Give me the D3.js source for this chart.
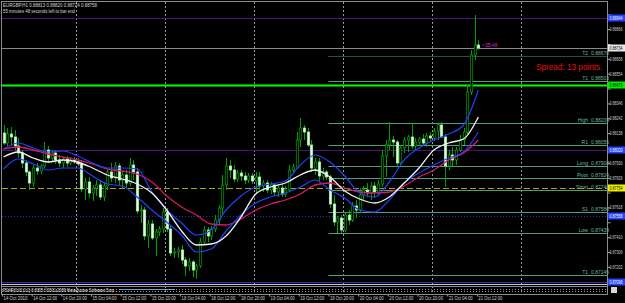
<!DOCTYPE html>
<html>
<head>
<meta charset="utf-8">
<title>EURGBP H1</title>
<script src="https://d3js.org/d3.v7.min.js"></script>
<style>
body { margin: 0; background: #000; overflow: hidden; }
svg { display: block; font-family: "Liberation Sans", Arial, sans-serif; }
</style>
</head>
<body>
<svg id="chart" width="625" height="303"></svg>
<script>
// hourly candles, [open, high, low, close]
var candles = [
  [0.88139,0.88195,0.88055,0.88069],[0.88069,0.88174,0.88048,0.88132],[0.88132,0.88181,0.88048,0.88111],
  [0.88111,0.88160,0.88020,0.88048],[0.88048,0.88104,0.87964,0.87999],[0.87999,0.88020,0.87894,0.87929],
  [0.87929,0.87950,0.87838,0.87866],[0.87866,0.87880,0.87740,0.87789],[0.87789,0.87915,0.87761,0.87894],
  [0.87894,0.87929,0.87845,0.87873],[0.87873,0.87922,0.87852,0.87908],[0.87908,0.88076,0.87894,0.88020],
  [0.88020,0.88048,0.87929,0.87964],[0.87964,0.88020,0.87936,0.87999],[0.87999,0.88020,0.87922,0.87950],
  [0.87950,0.87985,0.87901,0.87929],[0.87929,0.87971,0.87894,0.87957],[0.87957,0.87978,0.87901,0.87929],
  [0.87929,0.87971,0.87915,0.87950],[0.87950,0.87971,0.87922,0.87936],[0.87936,0.87964,0.87908,0.87922],
  [0.87922,0.87950,0.87726,0.87747],[0.87747,0.87824,0.87670,0.87796],[0.87796,0.87831,0.87684,0.87719],
  [0.87719,0.87775,0.87663,0.87754],[0.87754,0.87810,0.87698,0.87775],[0.87775,0.87810,0.87670,0.87691],
  [0.87691,0.87796,0.87663,0.87768],[0.87768,0.87880,0.87740,0.87866],[0.87866,0.87929,0.87796,0.87824],
  [0.87824,0.87936,0.87789,0.87908],[0.87908,0.87929,0.87768,0.87810],[0.87810,0.87866,0.87754,0.87845],
  [0.87845,0.87880,0.87754,0.87789],[0.87789,0.87964,0.87768,0.87915],[0.87915,0.87950,0.87810,0.87866],
  [0.87866,0.87894,0.87572,0.87593],[0.87593,0.87635,0.87509,0.87600],[0.87600,0.87621,0.87390,0.87418],
  [0.87418,0.87530,0.87334,0.87502],[0.87502,0.87530,0.87390,0.87404],[0.87404,0.87467,0.87278,0.87446],
  [0.87446,0.87488,0.87418,0.87467],[0.87467,0.87614,0.87439,0.87586],[0.87586,0.87614,0.87446,0.87467],
  [0.87467,0.87488,0.87278,0.87299],[0.87299,0.87334,0.87264,0.87306],[0.87306,0.87341,0.87264,0.87320],
  [0.87320,0.87355,0.87222,0.87250],[0.87250,0.87271,0.87138,0.87208],[0.87208,0.87264,0.87173,0.87236],
  [0.87236,0.87250,0.87131,0.87180],[0.87180,0.87222,0.87117,0.87208],[0.87208,0.87404,0.87194,0.87376],
  [0.87376,0.87488,0.87362,0.87460],[0.87460,0.87481,0.87376,0.87418],[0.87418,0.87488,0.87390,0.87467],
  [0.87467,0.87565,0.87446,0.87530],[0.87530,0.87635,0.87502,0.87614],[0.87614,0.87845,0.87572,0.87775],
  [0.87775,0.87964,0.87740,0.87908],[0.87908,0.87950,0.87824,0.87880],[0.87880,0.87915,0.87796,0.87817],
  [0.87817,0.87880,0.87796,0.87859],[0.87859,0.87880,0.87803,0.87838],[0.87838,0.87866,0.87782,0.87810],
  [0.87810,0.87859,0.87789,0.87838],[0.87838,0.87859,0.87782,0.87803],[0.87803,0.87866,0.87719,0.87831],
  [0.87831,0.87866,0.87740,0.87768],[0.87768,0.87810,0.87726,0.87789],[0.87789,0.87810,0.87719,0.87740],
  [0.87740,0.87796,0.87712,0.87775],[0.87775,0.87789,0.87698,0.87726],[0.87726,0.87782,0.87691,0.87754],
  [0.87754,0.87789,0.87691,0.87712],[0.87712,0.87768,0.87691,0.87740],[0.87740,0.87915,0.87726,0.87880],
  [0.87880,0.87922,0.87852,0.87901],[0.87901,0.88146,0.87887,0.88090],[0.88090,0.88244,0.88041,0.88174],
  [0.88174,0.88195,0.88090,0.88146],[0.88146,0.88174,0.88041,0.88055],[0.88055,0.88090,0.87866,0.87894],
  [0.87894,0.87964,0.87845,0.87936],[0.87936,0.87964,0.87796,0.87838],[0.87838,0.87894,0.87810,0.87866],
  [0.87866,0.87880,0.87810,0.87831],[0.87831,0.87845,0.87614,0.87642],[0.87642,0.87705,0.87488,0.87516],
  [0.87516,0.87558,0.87439,0.87544],[0.87544,0.87565,0.87439,0.87460],[0.87460,0.87586,0.87446,0.87565],
  [0.87565,0.87600,0.87495,0.87530],[0.87530,0.87656,0.87516,0.87628],[0.87628,0.87670,0.87544,0.87600],
  [0.87600,0.87754,0.87579,0.87705],[0.87705,0.87768,0.87670,0.87740],[0.87740,0.87789,0.87691,0.87719],
  [0.87719,0.87796,0.87670,0.87768],[0.87768,0.87796,0.87684,0.87726],[0.87726,0.87810,0.87698,0.87782],
  [0.87782,0.88020,0.87761,0.87978],[0.87978,0.88090,0.87831,0.88055],[0.88055,0.88216,0.88020,0.88090],
  [0.88090,0.88118,0.87971,0.88076],[0.88076,0.88090,0.87901,0.87929],[0.87929,0.88055,0.87908,0.88034],
  [0.88034,0.88111,0.87999,0.88090],[0.88090,0.88125,0.88006,0.88111],[0.88111,0.88209,0.88027,0.88048],
  [0.88048,0.88104,0.88020,0.88076],[0.88076,0.88111,0.88048,0.88097],[0.88097,0.88132,0.88055,0.88069],
  [0.88069,0.88139,0.88041,0.88118],[0.88118,0.88146,0.88076,0.88104],[0.88104,0.88174,0.88083,0.88153],
  [0.88153,0.88202,0.88090,0.88195],[0.88195,0.88216,0.88104,0.88111],[0.88111,0.88132,0.87761,0.87908],
  [0.87908,0.88020,0.87880,0.87985],[0.87985,0.88041,0.87901,0.87950],[0.87950,0.88041,0.87915,0.88020],
  [0.88020,0.88125,0.88006,0.88090],[0.88090,0.88174,0.88055,0.88146],[0.88146,0.88475,0.88132,0.88426],
  [0.88426,0.88720,0.88405,0.88685],[0.88685,0.88965,0.88650,0.88755],[0.88755,0.88790,0.88720,0.88734]
];

// indicator values, read every 4 bars
var lineBars = [0,4,8,12,16,20,24,28,32,36,40,44,48,52,56,60,64,68,72,76,80,84,88,92,96,100,104,108,112,116,120,124,128];
var maWhite = [0.87971,0.88006,0.87964,0.87936,0.87950,0.87936,0.87894,0.87845,0.87817,0.87782,0.87719,0.87600,0.87453,
  0.87355,0.87362,0.87418,0.87551,0.87712,0.87761,0.87789,0.87845,0.87880,0.87831,0.87733,0.87677,0.87649,0.87691,
  0.87789,0.87894,0.88020,0.88069,0.88097,0.88251];
var maRed = [0.88027,0.88041,0.88020,0.87992,0.87971,0.87950,0.87922,0.87887,0.87873,0.87852,0.87796,0.87698,0.87621,
  0.87565,0.87502,0.87495,0.87537,0.87600,0.87642,0.87670,0.87712,0.87775,0.87789,0.87754,0.87726,0.87719,0.87726,
  0.87768,0.87831,0.87880,0.87950,0.87999,0.88090];
var bandUpper = [0.88027,0.88069,0.88034,0.88006,0.88013,0.87978,0.87929,0.87894,0.87894,0.87887,0.87726,0.87600,0.87509,
  0.87425,0.87460,0.87600,0.87698,0.87761,0.87782,0.87803,0.87915,0.87985,0.87936,0.87838,0.87719,0.87691,0.87796,
  0.87950,0.88034,0.88090,0.88132,0.88195,0.88440];
var bandLower = [0.87887,0.87957,0.87922,0.87880,0.87894,0.87894,0.87838,0.87782,0.87768,0.87691,0.87600,0.87516,0.87425,
  0.87306,0.87327,0.87453,0.87565,0.87649,0.87691,0.87719,0.87761,0.87810,0.87740,0.87684,0.87600,0.87586,0.87670,
  0.87789,0.87859,0.87915,0.87964,0.88006,0.88146];

// pivot levels
var levelNames = ["T2","T1","High","R1","Long","Pivot","Short","S1","Low","T1"];
var levelValues = [0.88678,0.88503,0.88209,0.88055,0.87908,0.87824,0.87740,0.87586,0.87439,0.87145];
var levelStartBar = 88;

// other horizontal lines
var purpleLines = [0.88944,0.88020];
var dottedLine = 0.87558;
var bottomLine = 0.87096;
var greenLine = 0.88475;
var shortDashed = 0.87754;
var bid = 0.88734;

var yTicks = [0.88970,0.88866,0.88762,0.88658,0.88554,0.88450,0.88346,0.88242,0.88138,0.88034,
  0.87930,0.87826,0.87722,0.87618,0.87514,0.87410,0.87306,0.87202];
var dateBars = [0,8,16,24,32,40,48,56,64,72,80,88,96,104,112,120,128];
var dateLabels = ["14 Oct 2010","14 Oct 12:00","14 Oct 20:00","15 Oct 04:00","15 Oct 12:00","15 Oct 20:00",
  "18 Oct 04:00","18 Oct 12:00","18 Oct 20:00","19 Oct 04:00","19 Oct 12:00","19 Oct 20:00",
  "20 Oct 04:00","20 Oct 12:00","20 Oct 20:00","21 Oct 04:00","21 Oct 12:00"];
var dayBars = [20,44,68,92,116,140];

var svg = d3.select('#chart');
var x = d3.scaleLinear().domain([0, 163]).range([2, 606.7]);
var y = d3.scaleLinear().domain([0.8907, 0.8697]).range([0, 300]);
var cx = function(i) { return x(i) + 1.5; };

var fmt = d3.format('.5f');

// frame
svg.append('rect').attr('x', 1.5).attr('y', 1.5).attr('width', 606).attr('height', 293)
  .attr('fill', 'none').attr('stroke', '#8c8c8c').attr('stroke-width', 1);

// day separators
svg.selectAll('.day').data(dayBars).enter().append('line')
  .attr('x1', function(d) { return Math.round(x(d)) + 0.5; })
  .attr('x2', function(d) { return Math.round(x(d)) + 0.5; })
  .attr('y1', 2).attr('y2', 294)
  .attr('stroke', '#9a9a9a').attr('stroke-dasharray', '2,2');

function hline(price, color, width, dash, x0) {
  var yy = Math.round(y(price)) + 0.5;
  var l = svg.append('line').attr('x1', x0 == null ? 2 : x0).attr('x2', 607)
    .attr('y1', yy).attr('y2', yy).attr('stroke', color).attr('stroke-width', width);
  if (dash) l.attr('stroke-dasharray', dash);
}

purpleLines.forEach(function(p) { hline(p, '#4a1480', 1); });
hline(dottedLine, '#2a2ad8', 1, '1,2');
hline(bottomLine, '#3326c8', 1);
hline(bid, '#8a8a8a', 1);

// pivot levels
levelValues.forEach(function(p, i) {
  hline(p, '#4f9e7f', 1, i == 0 ? '1,1' : null, x(levelStartBar));
  var yy = y(p) - 1.5;
  svg.append('text').attr('x', 588).attr('y', yy).attr('text-anchor', 'end')
    .attr('font-size', 5).attr('fill', '#6fb89a').text(levelNames[i]);
  svg.append('text').attr('x', 591).attr('y', yy)
    .attr('font-size', 5).attr('fill', '#6fb89a').text(fmt(p));
});

hline(shortDashed, '#a8a800', 1, '6,3');
hline(greenLine, '#00ff00', 2);

// candles
var cg = svg.append('g');
cg.selectAll('.wick').data(candles).enter().append('line')
  .attr('x1', function(d, i) { return Math.round(cx(i)) + 0.5; })
  .attr('x2', function(d, i) { return Math.round(cx(i)) + 0.5; })
  .attr('y1', function(d) { return y(d[1]); })
  .attr('y2', function(d) { return y(d[2]); })
  .attr('stroke', '#00a000').attr('stroke-width', 1);

cg.selectAll('.body').data(candles).enter().append('rect')
  .attr('x', function(d, i) { return Math.round(cx(i)) - 0.7; })
  .attr('y', function(d) { return y(Math.max(d[0], d[3])); })
  .attr('width', 2.4)
  .attr('height', function(d) { return Math.max(1, Math.abs(y(d[0]) - y(d[3]))); })
  .attr('fill', function(d) { return d[3] < d[0] ? '#d6ffd6' : '#000'; })
  .attr('stroke', function(d) { return d[3] < d[0] ? '#b8f0b8' : '#00a000'; })
  .attr('stroke-width', 0.7);

// indicators
function drawLine(vals, color, w) {
  var line = d3.line()
    .x(function(d, i) { return cx(lineBars[i]); })
    .y(function(d) { return y(d); })
    .curve(d3.curveMonotoneX);
  svg.append('path').datum(vals).attr('d', line)
    .attr('fill', 'none').attr('stroke', color).attr('stroke-width', w);
}
drawLine(maRed, '#d41a66', 1.3);
drawLine(bandUpper, '#2040ff', 1.2);
drawLine(bandLower, '#2040ff', 1.2);
drawLine(maWhite, '#f2f2f2', 1.3);

// price markers on the axis
var markers = [
  [purpleLines[0], '#2442ff', '#fff'], [bid, '#e8e8e8', '#000'], [greenLine, '#00f000', '#000'],
  [purpleLines[1], '#2442ff', '#fff'], [shortDashed, '#f0f000', '#000'],
  [dottedLine, '#2442ff', '#fff'], [bottomLine, '#2442ff', '#fff']
];

// right price axis, labels hidden where a marker box covers them
var shown = yTicks.filter(function(t) {
  return !markers.some(function(m) { return Math.abs(y(m[0]) - y(t)) < 6.5; });
});
var yAxis = d3.axisRight(y).tickValues(yTicks).tickSize(3)
  .tickFormat(function(d) { return shown.indexOf(d) >= 0 ? fmt(d) : ''; });
var ya = svg.append('g').attr('transform', 'translate(607.5,0)').call(yAxis);
ya.select('.domain').remove();
ya.selectAll('line').attr('stroke', '#a0a0a0');
ya.selectAll('text').filter(function(d) { return shown.indexOf(d) >= 0; })
  .attr('font-size', 4.6).attr('fill', '#d0d0d0').attr('x', 2)
  .attr('textLength', 13).attr('lengthAdjust', 'spacingAndGlyphs')
  .attr('font-family', '"Liberation Sans", Arial, sans-serif');

markers.forEach(function(m) {
  var yy = y(m[0]);
  svg.append('rect').attr('x', 608).attr('y', yy - 3.5).attr('width', 17).attr('height', 7).attr('fill', m[1]);
  svg.append('text').attr('x', 609.5).attr('y', yy + 1.8).attr('font-size', 4.6).attr('fill', m[2])
    .attr('textLength', 13).attr('lengthAdjust', 'spacingAndGlyphs').text(fmt(m[0]));
});

// bottom indicator strip
svg.append('line').attr('x1', 2).attr('x2', 607).attr('y1', 284.5).attr('y2', 284.5).attr('stroke', '#c8c8c8');
svg.append('line').attr('x1', 2).attr('x2', 607).attr('y1', 286.5).attr('y2', 286.5).attr('stroke', '#8c8c8c');
svg.append('line').attr('x1', 2).attr('x2', 607).attr('y1', 289.5).attr('y2', 289.5)
  .attr('stroke', '#9a9a9a').attr('stroke-dasharray', '1,2');
svg.append('line').attr('x1', 2).attr('x2', 607).attr('y1', 291.5).attr('y2', 291.5)
  .attr('stroke', '#9a9a9a').attr('stroke-dasharray', '1,2');
svg.append('line').attr('x1', 120).attr('x2', 175).attr('y1', 289.5).attr('y2', 289.5)
  .attr('stroke', '#5aa0e0').attr('stroke-dasharray', '2,1');
svg.append('text').attr('x', 3).attr('y', 291.5).attr('font-size', 4.8).attr('fill', '#e0e0e0')
  .attr('textLength', 112).attr('lengthAdjust', 'spacingAndGlyphs')
  .text('PSAR(0.02,0.2) 0.0005 \u00a92001-2009 MetaQuotes Software Corp.');
svg.append('rect').attr('x', 611).attr('y', 287).attr('width', 6).attr('height', 6).attr('fill', '#d8d8d8');

// time axis
var xAxis = d3.axisBottom(x).tickValues(dateBars).tickSize(2)
  .tickFormat(function(d, i) { return dateLabels[i]; });
var xa = svg.append('g').attr('transform', 'translate(0,294.5)').call(xAxis);
xa.select('.domain').remove();
xa.selectAll('line').attr('stroke', '#a0a0a0');
xa.selectAll('text').attr('font-size', 4.8).attr('fill', '#d0d0d0').attr('text-anchor', 'start')
  .attr('x', 1).attr('y', 2.5).attr('dy', '0.71em')
  .attr('textLength', 24).attr('lengthAdjust', 'spacingAndGlyphs')
  .attr('font-family', '"Liberation Sans", Arial, sans-serif');

// header texts
svg.append('text').attr('x', 3).attr('y', 7).attr('font-size', 5).attr('fill', '#d8d8d8')
  .attr('textLength', 94).attr('lengthAdjust', 'spacingAndGlyphs')
  .text('EURGBP,H1  0.88813 0.88820 0.88724 0.88758');
svg.append('text').attr('x', 3).attr('y', 12.5).attr('font-size', 5).attr('fill', '#d8d8d8')
  .attr('textLength', 72).attr('lengthAdjust', 'spacingAndGlyphs')
  .text('55 minutes 48 seconds left to bar end');

svg.append('text').attr('x', 482).attr('y', 47).attr('font-size', 5).attr('fill', '#d020d0')
  .text('<35:48');
svg.append('text').attr('x', 536).attr('y', 70).attr('font-size', 8.2).attr('fill', '#e01414')
  .text('Spread: 13 points.');
</script>
